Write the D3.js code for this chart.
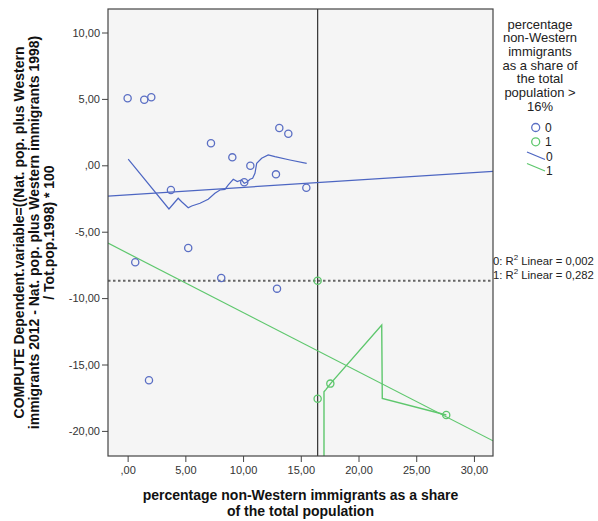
<!DOCTYPE html>
<html><head><meta charset="utf-8">
<script src="https://cdn.jsdelivr.net/npm/d3@7"></script>
<style>body{margin:0;background:#fff}svg{display:block;font-family:"Liberation Sans",Arial,sans-serif}</style>
</head><body><svg id="c" width="598" height="521"></svg>
<script>
// ---- data ----
const xTicks = [0, 5, 10, 15, 20, 25, 30];
const yTicks = [10, 5, 0, -5, -10, -15, -20];
const group0X = [0.0, 1.44, 2.05, 7.22, 9.07, 10.63, 13.14, 13.92, 12.85, 3.75, 10.1, 15.48, 0.66, 5.25, 8.11, 12.94, 1.85];
const group0Y = [5.05, 4.94, 5.12, 1.66, 0.60, -0.03, 2.81, 2.38, -0.68, -1.86, -1.28, -1.69, -7.30, -6.23, -8.49, -9.29, -16.19];
const group1X = [16.46, 16.46, 17.56, 27.6];
const group1Y = [-8.69, -17.57, -16.44, -18.8];
const loess0X = [0.05, 3.58, 4.38, 4.68, 5.25, 5.55, 6.27, 6.98, 7.56, 8.00, 8.43, 8.72, 9.15, 9.50, 9.88, 10.10, 10.31, 10.60, 10.83, 11.03, 11.18, 11.61, 12.18, 12.76, 14.06, 15.51];
const loess0Y = [0.47, -3.29, -2.48, -2.74, -3.19, -3.06, -2.86, -2.56, -2.11, -1.86, -1.81, -1.48, -1.05, -1.23, -1.11, -1.36, -1.28, -1.05, -0.98, -0.60, 0.15, 0.53, 0.78, 0.65, 0.40, 0.15];
const loess1X = [17.01, 17.01, 17.19, 17.59, 22.01, 22.06, 27.61];
const loess1Y = [-24.0, -17.05, -16.87, -16.42, -12.03, -17.55, -18.80];
const fitIntercept = [-2.22, -6.62];
const fitSlope = [0.0557, -0.4463];
const refX = 16.46;
const refY = -8.69;
const r2Labels = ["0: R", "1: R"];
const r2Values = ["0,002", "0,282"];
const legendTitle = ["percentage", "non-Western", "immigrants", "as a share of", "the total", "population >", "16%"];
const legendKeys = ["0", "1"];
const xTitle = ["percentage non-Western immigrants as a share", "of the total population"];
const yTitle = ["COMPUTE Dependent.variable=((Nat. pop. plus Western", "immigrants 2012 - Nat. pop. plus Western immigrants 1998)", "/ Tot.pop.1998) * 100"];

// ---- layout ----
const L = 108, R = 493, T = 9, B = 456;
const colPt = ["#5b6fc4", "#5ec76d"];
const colLn = ["#4d66c2", "#5ec76d"];
const fmt = v => { let s = d3.format(".2f")(Math.abs(v)).replace(".", ","); if (s.startsWith("0")) s = s.slice(1); return (v < 0 ? "-" : "") + s; };

const svg = d3.select("#c");
const x = d3.scaleLinear().domain([-1.7, 31.65]).range([L, R]);
const y = d3.scaleLinear().domain([-21.89, 11.77]).range([B, T]);

svg.append("defs").append("clipPath").attr("id", "clip").append("rect")
  .attr("x", L).attr("y", T).attr("width", R - L).attr("height", B - T);

svg.append("rect").attr("x", L).attr("y", T).attr("width", R - L).attr("height", B - T).attr("fill", "#f5f5f5");

const g = svg.append("g").attr("clip-path", "url(#clip)");

// reference lines
g.append("line").attr("x1", x(refX)).attr("x2", x(refX)).attr("y1", T).attr("y2", B)
  .attr("stroke", "#333").attr("stroke-width", 1.2);
g.append("line").attr("x1", L).attr("x2", R).attr("y1", y(refY)).attr("y2", y(refY))
  .attr("stroke", "#666").attr("stroke-width", 2).attr("stroke-dasharray", "2.5,2.5");

// fit lines
const xd = x.domain();
[0, 1].forEach(i => {
  g.append("line").attr("x1", x(xd[0])).attr("y1", y(fitIntercept[i] + fitSlope[i] * xd[0]))
    .attr("x2", x(xd[1])).attr("y2", y(fitIntercept[i] + fitSlope[i] * xd[1]))
    .attr("stroke", colLn[i]).attr("stroke-width", 1.2);
});

// loess
const line = d3.line().x(d => x(d[0])).y(d => y(d[1]));
g.append("path").attr("d", line(loess0X.map((v, i) => [v, loess0Y[i]]))).attr("fill", "none").attr("stroke", colLn[0]).attr("stroke-width", 1.2);
g.append("path").attr("d", line(loess1X.map((v, i) => [v, loess1Y[i]]))).attr("fill", "none").attr("stroke", colLn[1]).attr("stroke-width", 1.4);

// points
g.selectAll(".p0").data(group0X.map((v, i) => [v, group0Y[i]])).join("circle")
  .attr("cx", d => x(d[0])).attr("cy", d => y(d[1])).attr("r", 3.6)
  .attr("fill", "none").attr("stroke", colPt[0]).attr("stroke-width", 1.3);
g.selectAll(".p1").data(group1X.map((v, i) => [v, group1Y[i]])).join("circle")
  .attr("cx", d => x(d[0])).attr("cy", d => y(d[1])).attr("r", 3.6)
  .attr("fill", "none").attr("stroke", colPt[1]).attr("stroke-width", 1.3);

// frame
svg.append("rect").attr("x", L).attr("y", T).attr("width", R - L).attr("height", B - T)
  .attr("fill", "none").attr("stroke", "#444").attr("stroke-width", 1.2);

// axes
const ax = svg.append("g").attr("transform", `translate(0,${B})`)
  .call(d3.axisBottom(x).tickValues(xTicks).tickFormat(fmt).tickSize(6).tickPadding(4));
const ay = svg.append("g").attr("transform", `translate(${L},0)`)
  .call(d3.axisLeft(y).tickValues(yTicks).tickFormat(fmt).tickSize(6).tickPadding(2));
[ax, ay].forEach(a => {
  a.select(".domain").remove();
  a.selectAll("line").attr("stroke", "#444");
  a.selectAll("text").attr("font-family", "Liberation Sans, Arial").attr("font-size", 11).attr("fill", "#333");
});

// axis titles
svg.append("text").attr("x", (L + R) / 2).attr("y", 500).attr("text-anchor", "middle")
  .attr("font-weight", "bold").attr("font-size", 14).attr("fill", "#111")
  .selectAll("tspan").data(xTitle).join("tspan").attr("x", (L + R) / 2).attr("dy", (d, i) => i ? 16 : 0).text(d => d);
const yt = svg.append("text").attr("transform", `translate(24,${(T + B) / 2}) rotate(-90)`)
  .attr("text-anchor", "middle").attr("font-weight", "bold").attr("font-size", 14).attr("fill", "#111");
yt.selectAll("tspan").data(yTitle).join("tspan").attr("x", 0).attr("dy", (d, i) => i ? 15 : 0).text(d => d);

// R2 labels
r2Labels.forEach((lab, i) => {
  const t = svg.append("text").attr("x", R).attr("y", 265 + i * 14).attr("font-size", 11.3).attr("fill", "#222");
  t.append("tspan").text(lab);
  t.append("tspan").attr("font-size", 8).attr("dy", -5).text("2");
  t.append("tspan").attr("dy", 5).text(" Linear = " + r2Values[i]);
});

// legend
const lt = svg.append("text").attr("font-size", 13).attr("fill", "#222").attr("text-anchor", "middle");
lt.selectAll("tspan").data(legendTitle).join("tspan").attr("x", 540).attr("y", (d, i) => 28.5 + i * 13.7).text(d => d);
legendKeys.forEach((k, i) => {
  svg.append("circle").attr("cx", 535.7).attr("cy", 127.5 + i * 14.3).attr("r", 4)
    .attr("fill", "none").attr("stroke", colPt[i]).attr("stroke-width", 1.3);
  svg.append("text").attr("x", 545).attr("y", 132 + i * 14.3).attr("font-size", 12).attr("fill", "#222").text(k);
  svg.append("line").attr("x1", 527).attr("y1", 152 + i * 11.5).attr("x2", 545).attr("y2", 159.5 + i * 11.5)
    .attr("stroke", colLn[i]).attr("stroke-width", 1.3);
  svg.append("text").attr("x", 546).attr("y", 161 + i * 14).attr("font-size", 12).attr("fill", "#222").text(k);
});
</script></body></html>
